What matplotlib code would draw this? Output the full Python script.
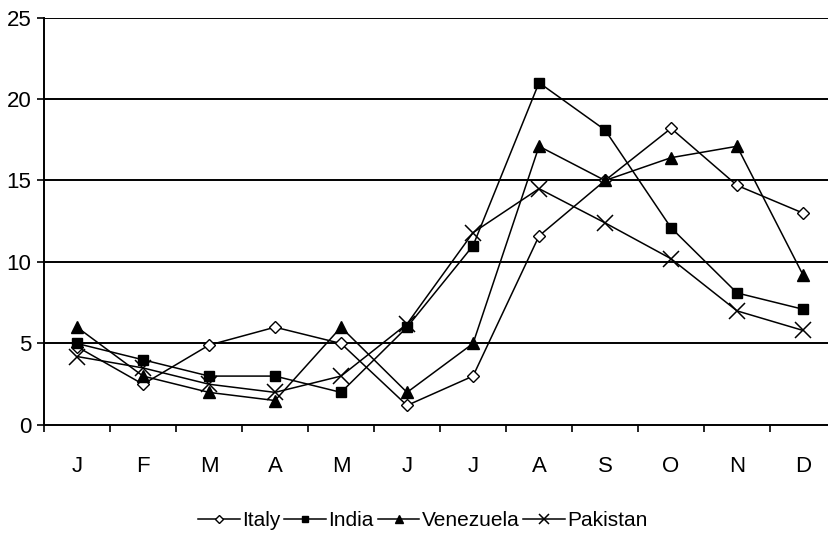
import matplotlib
matplotlib.use("Agg")
import matplotlib.pyplot as plt
from matplotlib.ticker import FixedLocator

plt.rcParams['font.family'] = ['Liberation Sans Narrow', 'Liberation Sans', 'DejaVu Sans']

months = ["J", "F", "M", "A", "M", "J", "J", "A", "S", "O", "N", "D"]
italy = [4.8, 2.5, 4.9, 6.0, 5.0, 1.2, 3.0, 11.6, 15.0, 18.2, 14.7, 13.0]
india = [5.0, 4.0, 3.0, 3.0, 2.0, 6.0, 11.0, 21.0, 18.1, 12.1, 8.1, 7.1]
venezuela = [6.0, 3.0, 2.0, 1.5, 6.0, 2.0, 5.0, 17.1, 15.0, 16.4, 17.1, 9.2]
pakistan = [4.2, 3.5, 2.5, 2.0, 3.0, 6.2, 11.8, 14.5, 12.4, 10.2, 7.0, 5.8]
yticks = [0, 5, 10, 15, 20, 25]

fig = plt.figure(figsize=(8.29, 5.42), dpi=100)
# plot area runs slightly past the right edge, as in the cropped original
ax = fig.add_axes([0.0531, 0.2159, 0.9554, 0.7518])

x = list(range(len(months)))
ax.plot(x, italy, color="black", lw=1.1, marker="D", ms=6.5, mfc="white", mec="black", mew=1.0, label="Italy")
ax.plot(x, india, color="black", lw=1.1, marker="s", ms=7, mfc="black", mec="black", label="India")
ax.plot(x, venezuela, color="black", lw=1.1, marker="^", ms=8, mfc="black", mec="black", label="Venezuela")
ax.plot(x, pakistan, color="black", lw=1.1, marker="x", ms=11, mew=1.1, label="Pakistan")

ax.set_xlim(-0.5, 11.5)
ax.set_ylim(0, 25)
for v in yticks[1:]:
    ax.axhline(v, color="black", lw=1.4, zorder=0)

# ticks sit between the months, labels at the month centres
ax.xaxis.set_major_locator(FixedLocator([i - 0.5 for i in range(13)]))
ax.xaxis.set_minor_locator(FixedLocator(x))
ax.set_xticklabels([])
ax.set_xticklabels(months, minor=True)
ax.tick_params(axis="x", which="major", direction="out", length=5, width=1.2, color="black")
ax.tick_params(axis="x", which="minor", length=0, pad=22, labelsize=16)
ax.set_yticks(yticks)
ax.tick_params(axis="y", direction="out", length=5, width=1.2, pad=4, labelsize=16)

for s in ["top", "right"]:
    ax.spines[s].set_visible(False)
ax.spines["left"].set_linewidth(1.4)
ax.spines["bottom"].set_linewidth(1.4)

fig.legend(loc="center", bbox_to_anchor=(0.51, 0.04), ncol=4, frameon=False,
           fontsize=15, handlelength=2.0, handletextpad=0.1, columnspacing=0.2,
           markerscale=0.7)

fig.savefig("out.png", dpi=100)
